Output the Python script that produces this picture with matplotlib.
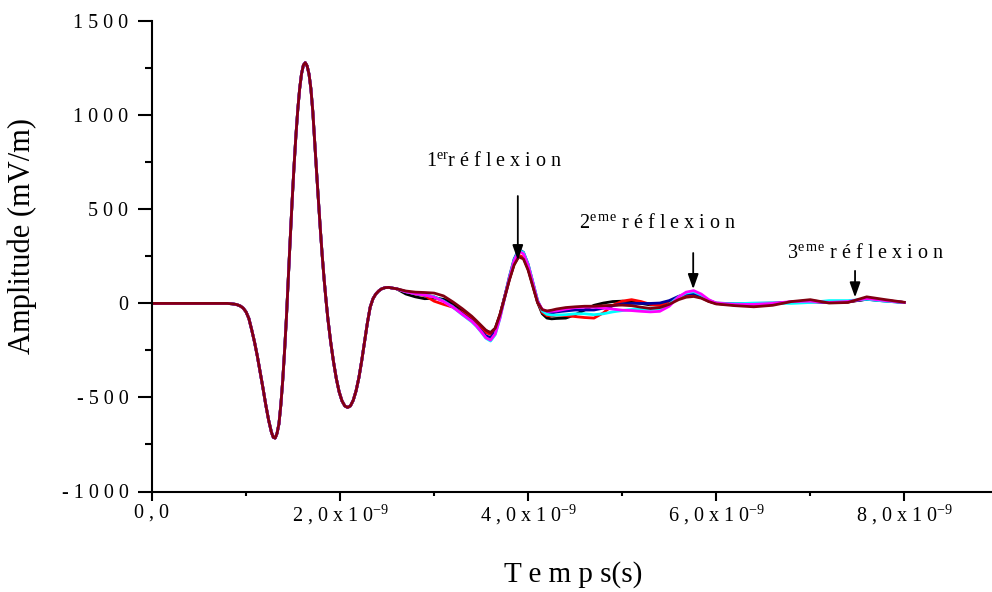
import matplotlib
matplotlib.use("Agg")
import matplotlib.pyplot as plt
import numpy as np

plt.rcParams['font.family'] = ['Liberation Serif', 'DejaVu Serif']
plt.rcParams['mathtext.fontset'] = 'custom'
plt.rcParams['mathtext.rm'] = 'Liberation Serif'
plt.rcParams['mathtext.it'] = 'Liberation Serif:italic'
plt.rcParams['mathtext.bf'] = 'Liberation Serif:bold'

# Incident pulse, identical for every trace (time in ns, amplitude in mV/m)
pulse_t = [0.0, 0.80, 0.85, 0.90, 0.94, 0.97, 1.00, 1.03, 1.06, 1.09, 1.12,
           1.15, 1.18, 1.21, 1.24, 1.27, 1.29, 1.31, 1.33, 1.35, 1.37, 1.39,
           1.41, 1.43, 1.45, 1.47, 1.49, 1.51, 1.53, 1.55, 1.57, 1.59, 1.61,
           1.63, 1.65, 1.67, 1.69, 1.71, 1.73, 1.75, 1.77, 1.79, 1.81, 1.83,
           1.85, 1.87, 1.90, 1.93, 1.96, 1.99, 2.02, 2.05, 2.08, 2.11, 2.14,
           2.17, 2.20, 2.23, 2.26, 2.29, 2.32, 2.35, 2.38, 2.41, 2.44, 2.48,
           2.52, 2.56]
pulse_v = [0, 0, -2, -6, -14, -25, -45, -80, -140, -205, -280,
           -365, -450, -540, -620, -685, -712, -716, -690, -640, -540, -410,
           -250, -70, 140, 345, 543, 726, 890, 1029, 1141, 1221, 1267,
           1280, 1262, 1218, 1140, 1020, 860, 700, 545, 395, 255, 130,
           20, -80, -205, -310, -400, -470, -518, -545, -553, -545, -515,
           -465, -395, -305, -205, -105, -20, 25, 50, 66, 77, 84,
           85, 81]

# Time samples of the reflected part of each trace (ns)
tail_t = [2.6, 2.7, 2.8, 2.9, 3.0, 3.1, 3.2, 3.3, 3.4,
          3.45, 3.5, 3.55, 3.6, 3.65, 3.7, 3.75, 3.8, 3.85, 3.9, 3.95, 4.0,
          4.05, 4.1, 4.15, 4.2, 4.25, 4.3,
          4.4, 4.5, 4.6, 4.7, 4.8, 4.9, 5.0, 5.1, 5.2, 5.3, 5.4, 5.5,
          5.6, 5.68, 5.76, 5.84, 5.92, 6.0,
          6.2, 6.4, 6.6, 6.8, 7.0, 7.2, 7.4, 7.6, 7.8, 8.0]

tail_black = [78, 50, 35, 25, 28, 22, 0, -38, -78,
              -100, -122, -145, -155, -132, -60, 35, 128, 208, 252, 243, 182,
              95, 5, -55, -78, -82, -80,
              -78, -60, -35, -10, 2, 10, 12, 8, 0, -8, -8, 5,
              25, 40, 44, 32, 12, 0,
              -8, -10, -3, 8, 12, 5, 8, 22, 15, 5]
tail_red = [78, 62, 50, 42, 12, -5, -20, -48, -82,
            -105, -128, -155, -165, -138, -62, 35, 130, 212, 256, 245, 185,
            98, 8, -48, -65, -66, -62,
            -65, -70, -75, -78, -50, -10, 12, 20, 10, -5, -10, 5,
            28, 42, 45, 33, 12, 0,
            -8, -10, -3, 8, 14, 6, 8, 24, 16, 5]
tail_blue = [78, 62, 52, 45, 35, 15, -18, -55, -92,
             -118, -146, -172, -182, -152, -70, 35, 142, 235, 287, 272, 208,
             112, 15, -40, -55, -52, -45,
             -40, -35, -35, -35, -25, -12, -3, 0, 0, 0, 2, 15,
             38, 50, 53, 40, 15, 2,
             -2, 0, 2, 5, 8, 6, 10, 22, 12, 5]
tail_cyan = [78, 62, 52, 45, 35, 12, -20, -60, -98,
             -122, -152, -185, -200, -166, -80, 30, 136, 230, 284, 270, 207,
             112, 15, -40, -58, -62, -62,
             -60, -55, -55, -60, -55, -45, -38, -32, -30, -32, -28, -5,
             35, 55, 62, 45, 18, 0,
             -2, 2, 2, 0, 5, 15, 15, 22, 12, 5]
tail_magenta = [78, 62, 52, 45, 33, 10, -20, -58, -95,
                -120, -150, -182, -195, -162, -78, 30, 133, 225, 277, 264, 202,
                108, 12, -32, -42, -42, -40,
                -30, -22, -20, -20, -25, -30, -36, -38, -42, -45, -42, -15,
                35, 60, 68, 50, 20, 2,
                -6, -5, 0, 10, 12, 5, 10, 26, 15, 5]
tail_wine = [78, 66, 60, 58, 55, 40, 8, -28, -68,
             -92, -117, -142, -157, -132, -60, 30, 124, 204, 248, 236, 176,
             90, 5, -33, -40, -36, -30,
             -22, -18, -15, -15, -12, -10, -9, -12, -20, -27, -22, -5,
             20, 33, 37, 28, 10, -3,
             -12, -18, -10, 10, 20, 2, 5, 35, 20, 6]

traces = [
    (tail_black, '#000000'),
    (tail_red, '#FF0000'),
    (tail_blue, '#0000A0'),
    (tail_cyan, '#00FFFF'),
    (tail_magenta, '#FF00FF'),
    (tail_wine, '#800010'),
]

# Axis ticks
x_major_ns = [0, 2, 4, 6, 8]
x_minor_ns = [1, 3, 5, 7]
x_labels = ['0 , 0',
            r'2 , 0 x 1 0$^{\mathregular{-9}}$',
            r'4 , 0 x 1 0$^{\mathregular{-9}}$',
            r'6 , 0 x 1 0$^{\mathregular{-9}}$',
            r'8 , 0 x 1 0$^{\mathregular{-9}}$']
y_major = [-1000, -500, 0, 500, 1000, 1500]
y_minor = [-750, -250, 250, 750, 1250]
y_labels = ['- 1 0 0 0', '- 5 0 0', '0', '5 0 0', '1 0 0 0', '1 5 0 0']

# Reflection markers: (label, text x ns, text y, arrow x ns, arrow top, arrow tip)
reflections = [
    (r'1$^{\mathregular{er}}$r é f l e x i o n', 2.914, 730, 3.89, 571, 230),
    (r'2$^{\mathregular{e\,m\,e}}$ r é f l e x i o n', 4.54, 400, 5.755, 268, 76),
    (r'3$^{\mathregular{e\,m\,e}}$ r é f l e x i o n', 6.75, 239, 7.476, 173, 32),
]

NS = 1e-9

fig = plt.figure(figsize=(9.92, 5.92), dpi=100)
ax = fig.add_axes([152 / 992, (592 - 491.5) / 592, 840 / 992, 470.2 / 592])

for tail, color in traces:
    t = np.array(pulse_t + tail_t) * NS
    v = np.array(pulse_v + tail)
    ax.plot(t, v, color=color, lw=2.0, solid_joinstyle='round')

ax.set_xlim(0, 840 / 94.04 * NS)
ax.set_ylim(-1000, 1500)

for side in ('top', 'right'):
    ax.spines[side].set_visible(False)
for side in ('left', 'bottom'):
    ax.spines[side].set_linewidth(1.5)

ax.set_xticks(np.array(x_major_ns) * NS)
ax.set_xticks(np.array(x_minor_ns) * NS, minor=True)
ax.set_xticklabels(x_labels)
ax.set_yticks(y_major)
ax.set_yticks(y_minor, minor=True)
ax.set_yticklabels(y_labels)

ax.tick_params(axis='y', which='major', direction='out', length=10, width=1.5,
               pad=7, labelsize=14.5)
ax.tick_params(axis='y', which='minor', direction='out', length=5, width=1.5)
ax.tick_params(axis='x', which='major', direction='out', length=6.5, width=1.5,
               pad=2, labelsize=14.5)
ax.tick_params(axis='x', which='minor', direction='out', length=3, width=1.5)

ax.set_ylabel('Amplitude (mV/m)', fontsize=22, va='center')
ax.yaxis.set_label_coords(-0.1548, 0.543)
ax.set_xlabel('T e m p s(s)', fontsize=21, va='center')
ax.xaxis.set_label_coords(0.502, -0.176)

for label, tx, ty, ax_x, a_top, a_tip in reflections:
    ax.text(tx * NS, ty, label, fontsize=14.5, ha='left', va='baseline')
    ax.annotate('', xy=(ax_x * NS, a_tip), xytext=(ax_x * NS, a_top),
                arrowprops=dict(arrowstyle='-|>,head_length=0.45,head_width=0.16',
                                color='black', lw=1.3, mutation_scale=20,
                                shrinkA=0, shrinkB=0))

fig.savefig('out.png', dpi=100, facecolor='white')
